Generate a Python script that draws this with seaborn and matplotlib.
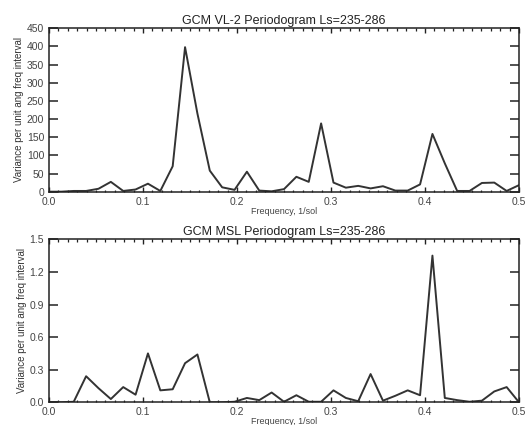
import numpy as np
import pandas as pd
import matplotlib
matplotlib.use("Agg")
import matplotlib.pyplot as plt
from matplotlib.ticker import MultipleLocator, FormatStrFormatter
import seaborn as sns

# frequencies k/76 sol^-1, k = 0..38
k = np.arange(39)
freq = k / 76.0

# GCM VL-2 periodogram values
vl2 = [0, 0, 2, 2, 8, 27, 2, 6, 22, 2,
       70, 398, 215, 58, 12, 5, 55, 3, 1, 7,
       41, 27, 188, 25, 11, 16, 9, 15, 3, 3,
       20, 159, 78, 2, 2, 24, 25, 2, 18]

# GCM MSL periodogram values
msl = [0, 0, 0.005, 0.24, 0.13, 0.03, 0.14, 0.07, 0.45, 0.11,
       0.12, 0.36, 0.44, 0.0, 0.0, 0.005, 0.04, 0.02, 0.09, 0.005,
       0.065, 0.005, 0.005, 0.11, 0.04, 0.01, 0.26, 0.015, 0.06, 0.11,
       0.065, 1.35, 0.04, 0.02, 0.005, 0.015, 0.10, 0.14, 0.0]

sns.set_style("ticks")
plt.rcParams['font.family'] = ['Liberation Sans', 'DejaVu Sans']

fig = plt.figure(figsize=(5.32, 4.25), dpi=100)
ax1 = fig.add_axes([0.0921, 0.549, 0.8835, 0.3845])
ax2 = fig.add_axes([0.0921, 0.0534, 0.8835, 0.3835])

df = pd.DataFrame({"freq": freq, "vl2": vl2, "msl": msl})

panels = [
    (ax1, "vl2", "GCM VL-2 Periodogram Ls=235-286", 450, 50, "%d"),
    (ax2, "msl", "GCM MSL Periodogram Ls=235-286", 1.5, 0.3, "%.1f"),
]

for ax, col, title, ymax, ystep, fmt in panels:
    sns.lineplot(data=df, x="freq", y=col, ax=ax, color="#333333", linewidth=1.4)
    ax.set_xlim(0, 0.5)
    ax.set_ylim(0, ymax)
    ax.xaxis.set_major_locator(MultipleLocator(0.1))
    ax.xaxis.set_minor_locator(MultipleLocator(0.01))
    ax.xaxis.set_major_formatter(FormatStrFormatter("%.1f"))
    ax.yaxis.set_major_locator(MultipleLocator(ystep))
    ax.yaxis.set_major_formatter(FormatStrFormatter(fmt))
    ax.tick_params(axis="both", which="both", direction="in",
                   top=True, right=True, labelsize=7.5, colors="#222222",
                   labelcolor="#444444")
    ax.tick_params(axis="y", which="major", length=6.5, width=1.1)
    ax.tick_params(axis="x", which="major", length=3.5, width=1.0)
    ax.tick_params(axis="x", which="minor", length=1.8, width=0.9)
    for s in ax.spines.values():
        s.set_linewidth(1.1)
        s.set_color("#222222")
    ax.set_title(title, fontsize=9, pad=3, color="#222222")
    ax.set_xlabel("Frequency, 1/sol", fontsize=6.5, labelpad=0, color="#444444")
    ax.set_ylabel("Variance per unit ang freq interval", fontsize=7, labelpad=2,
                  color="#333333")

fig.savefig("out.png", dpi=100)
